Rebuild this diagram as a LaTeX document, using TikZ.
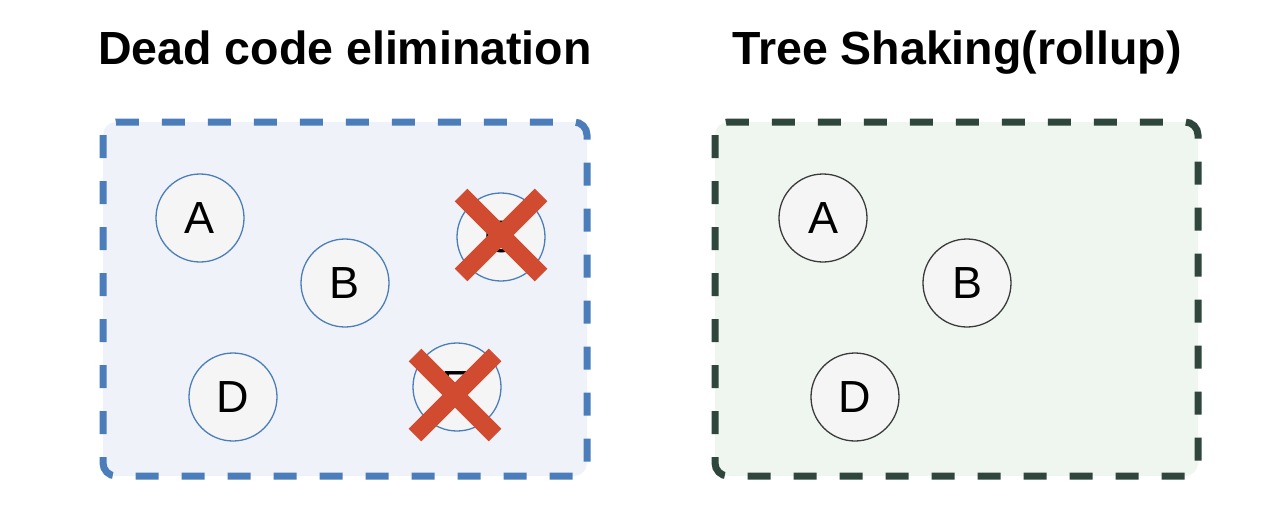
\documentclass[tikz,border=0pt]{standalone}
\usepackage{fontspec}
\setmainfont{Liberation Sans}
\begin{document}
\begin{tikzpicture}[x=1pt,y=-1pt,
  title/.style={font=\fontsize{46.5}{50}\selectfont\bfseries, text=black, anchor=base},
  blueframe/.style={draw=frameblue, fill=fillblue, line width=7pt, dash pattern=on 23pt off 23pt, rounded corners=13pt},
  greenframe/.style={draw=framegreen, fill=fillgreen, line width=7pt, dash pattern=on 23pt off 23pt, rounded corners=13pt},
  modb/.style={circle, draw=circblue, line width=1.3pt, fill=circfill, minimum size=88pt, inner sep=0pt, font=\fontsize{45}{48}\selectfont},
  modg/.style={circle, draw=circgray, line width=1.3pt, fill=circfill, minimum size=88pt, inner sep=0pt, font=\fontsize{45}{48}\selectfont},
  crossline/.style={draw=crossred, line width=18pt, line cap=butt}
]
\definecolor{frameblue}{HTML}{4A7DBA}
\definecolor{fillblue}{HTML}{EFF3F9}
\definecolor{framegreen}{HTML}{2F463D}
\definecolor{fillgreen}{HTML}{EFF6F0}
\definecolor{circblue}{HTML}{4A7DBA}
\definecolor{circgray}{HTML}{3A3A3A}
\definecolor{circfill}{HTML}{F5F5F5}
\definecolor{crossred}{HTML}{D14B30}
\useasboundingbox[fill=white] (0,0) rectangle (1280,506);

% titles
\node[title] (t1) at (345,64) {Dead code elimination};
\node[title] (t2) at (957,64) {Tree Shaking(rollup)};

% frames
\draw[blueframe] (103,122) rectangle (587,476);
\draw[greenframe] (715,122) rectangle (1198,476);

% left modules
\node[modb] (la) at (200,218) {A};
\node[modb] (lb) at (345,283) {B};
\node[modb] (lc) at (501,237) {C};
\node[modb] (ld) at (233,397) {D};
\node[modb] (le) at (457,387) {E};

% crosses
\coordinate (xc) at (501,235);
\coordinate (xe) at (455,395);
\draw[crossline] ([shift={(-40,-40)}]xc) -- ([shift={(40,40)}]xc);
\draw[crossline] ([shift={(-40,40)}]xc) -- ([shift={(40,-40)}]xc);
\draw[crossline] ([shift={(-40,-40)}]xe) -- ([shift={(40,40)}]xe);
\draw[crossline] ([shift={(-40,40)}]xe) -- ([shift={(40,-40)}]xe);

% right modules
\node[modg] (ra) at (823,218) {A};
\node[modg] (rb) at (967,283) {B};
\node[modg] (rd) at (855,397) {D};
\end{tikzpicture}
\end{document}
